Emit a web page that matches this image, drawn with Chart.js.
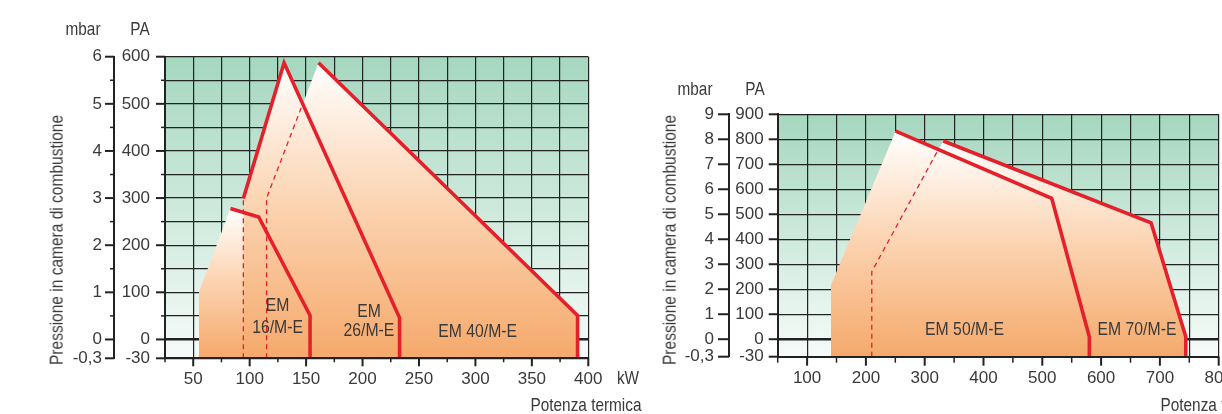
<!DOCTYPE html>
<html>
<head>
<meta charset="utf-8">
<script src="https://cdn.jsdelivr.net/npm/chart.js@4.4.1/dist/chart.umd.min.js"></script>
<style>
  html, body { margin: 0; padding: 0; background: #fff; }
  body {
    width: 1222px; height: 414px; overflow: hidden; position: relative;
    font-family: "Liberation Sans", Arial, sans-serif;
    color: #3a3a3a;
  }
  canvas { position: absolute; top: 0; }
  #leftChart { left: 0; }
  #rightChart { left: 650px; }
  /* testo stretto come nell'originale */
  .lbl { position: absolute; font-size: 18.5px; line-height: 1; white-space: nowrap;
         transform: translate(-50%, -50%) scaleX(0.83); }
  .ytitle { font-size: 18.7px; transform: translate(-50%, -50%) rotate(-90deg) scaleX(0.83); }
</style>
</head>
<body>
<canvas id="leftChart" width="650" height="414"></canvas>
<canvas id="rightChart" width="620" height="414"></canvas>

<div class="lbl" style="left:83px;top:29px">mbar</div>
<div class="lbl" style="left:140px;top:29px">PA</div>
<div class="lbl ytitle" style="left:57px;top:240px">Pressione in camera di combustione</div>
<div class="lbl" style="left:628px;top:378px">kW</div>
<div class="lbl" style="left:586px;top:405px">Potenza termica</div>

<div class="lbl" style="left:695px;top:89px">mbar</div>
<div class="lbl" style="left:755px;top:89px">PA</div>
<div class="lbl ytitle" style="left:670px;top:240px">Pressione in camera di combustione</div>
<div class="lbl" style="left:1216px;top:405px">Potenza termica</div>

<script>
// --- grafico sinistro: EM 16 / 26 / 40 (kW, Pa) ---
const leftPaTicks  = [-40, 0, 50, 100, 150, 200, 250, 300, 350, 400, 450, 500, 550, 600];
const leftPaLabels = ['-30', '0', '', '100', '', '200', '', '300', '', '400', '', '500', '', '600'];
const leftMbarTicks  = [-0.4, 0, 0.5, 1, 1.5, 2, 2.5, 3, 3.5, 4, 4.5, 5, 5.5, 6];
const leftMbarLabels = ['-0,3', '0', '', '1', '', '2', '', '3', '', '4', '', '5', '', '6'];

const em16Kw = [55, 55, 83, 108, 153.5, 153.5];
const em16Pa = [-40, 100, 278, 260, 51, -40];
const em26Kw = [94.4, 94.4, 130.5, 232.8, 232.8];
const em26Pa = [-40, 299, 587, 46, -40];
const em40Kw = [115, 115, 161, 390.5, 390.5];
const em40Pa = [-40, 300, 587, 51, -40];
const em40DashKw = [115, 115, 147];
const em40DashPa = [-40, 300, 500];

// --- grafico destro: EM 50 / 70 ---
const rightPaTicks  = [-70, 0, 100, 200, 300, 400, 500, 600, 700, 800, 900];
const rightPaLabels = ['-30', '0', '100', '200', '300', '400', '500', '600', '700', '800', '900'];
const rightMbarTicks  = [-0.7, 0, 1, 2, 3, 4, 5, 6, 7, 8, 9];
const rightMbarLabels = ['-0,3', '0', '1', '2', '3', '4', '5', '6', '7', '8', '9'];

const em50Kw = [140.6, 140.6, 250.7, 516, 580, 580];
const em50Pa = [-70, 217, 833, 564, 10, -70];
const em70Kw = [210, 210, 331.6, 685, 744, 744];
const em70Pa = [-70, 270, 793, 466, 10, -70];
const em70DashKw = [210, 210, 322];
const em70DashPa = [-70, 270, 754];

const leftNotes = [
  { text: 'EM', kw: 124.7, pa: 72 },
  { text: '16/M-E', kw: 124.7, pa: 24 },
  { text: 'EM', kw: 205.7, pa: 59 },
  { text: '26/M-E', kw: 205.7, pa: 18 },
  { text: 'EM 40/M-E', kw: 302, pa: 16 }
];
const rightNotes = [
  { text: 'EM 50/M-E', kw: 367.7, pa: 37 },
  { text: 'EM 70/M-E', kw: 661, pa: 37 }
];

const RED = '#e6202a';
const INK = '#222';
const TEXT = '#3a3a3a';
const tickFont = { family: "'Liberation Sans', Arial, sans-serif", size: 17 };
const noteFont = "19px 'Liberation Sans', Arial, sans-serif";

function pts(kw, pa) {
  return kw.map((x, i) => ({ x: x, y: pa[i] }));
}

// gradiente bianco -> arancio, dalla cima della figura al fondo
function shapeFill(top) {
  return (ctx) => {
    const chart = ctx.chart;
    const area = chart.chartArea;
    if (!area) return 'rgba(0,0,0,0)';
    const y0 = chart.scales.y.getPixelForValue(top);
    const g = chart.ctx.createLinearGradient(0, y0, 0, area.bottom);
    g.addColorStop(0, '#ffffff');
    g.addColorStop(0.45, '#fcd6b6');
    g.addColorStop(1, '#f5a96b');
    return g;
  };
}

function fillSet(kw, pa, order) {
  return {
    data: pts(kw, pa), fill: 'start', borderWidth: 0, pointRadius: 0,
    backgroundColor: shapeFill(Math.max(...pa)), order: order
  };
}
function redSet(data) {
  return { data: data, fill: false, borderColor: RED, borderWidth: 3.6, pointRadius: 0,
           borderJoinStyle: 'miter', borderCapStyle: 'butt', order: 1 };
}
function dashSet(kw, pa) {
  return { data: pts(kw, pa), fill: false, borderColor: RED, borderWidth: 1.3, borderDash: [5, 4],
           pointRadius: 0, order: 2 };
}

const plotBg = {
  id: 'plotBg',
  beforeDraw(chart) {
    const a = chart.chartArea;
    const ctx = chart.ctx;
    const g = ctx.createLinearGradient(0, a.top, 0, a.bottom);
    g.addColorStop(0, '#a5d7bf');
    g.addColorStop(1, '#f6fbf9');
    ctx.save();
    ctx.fillStyle = g;
    ctx.fillRect(a.left, a.top, a.right - a.left, a.bottom - a.top);
    ctx.restore();
  }
};

// tacche: lunghe dove c'e' etichetta, corte dove no
const tickMarks = {
  id: 'tickMarks',
  afterDraw(chart, args, opts) {
    const ctx = chart.ctx;
    ctx.save();
    ctx.strokeStyle = INK;
    Object.keys(opts.len || {}).forEach(id => {
      const s = chart.scales[id];
      const [maj, min] = opts.len[id];
      s.ticks.forEach(t => {
        const major = t.label !== '';
        const len = major ? maj : min;
        if (!len) return;
        const p = s.getPixelForValue(t.value);
        ctx.lineWidth = major ? 2 : 1.5;
        ctx.beginPath();
        if (s.isHorizontal()) { ctx.moveTo(p, s.top); ctx.lineTo(p, s.top + len); }
        else { ctx.moveTo(s.right - len, p); ctx.lineTo(s.right, p); }
        ctx.stroke();
      });
    });
    ctx.restore();
  }
};

// scritte dentro le figure, strette in orizzontale
const notes = {
  id: 'notes',
  afterDatasetsDraw(chart, args, opts) {
    const ctx = chart.ctx;
    (opts.items || []).forEach(n => {
      ctx.save();
      ctx.font = noteFont;
      ctx.fillStyle = TEXT;
      ctx.textAlign = 'center';
      ctx.textBaseline = 'middle';
      ctx.translate(chart.scales.x.getPixelForValue(n.kw), chart.scales.y.getPixelForValue(n.pa));
      ctx.scale(0.83, 1);
      ctx.fillText(n.text, 0, 0);
      ctx.restore();
    });
  }
};

function makeChart(id, cfg) {
  const fixTicks = (vals) => (s) => { s.ticks = vals.map(v => ({ value: v })); };
  const labelOf = (vals, labels) => (v) => { const i = vals.indexOf(v); return i < 0 ? '' : labels[i]; };
  return new Chart(document.getElementById(id), {
    type: 'line',
    data: { datasets: cfg.datasets },
    plugins: [plotBg, tickMarks, notes],
    options: {
      responsive: false,
      animation: false,
      layout: { padding: cfg.padding },
      plugins: {
        legend: { display: false },
        tooltip: { enabled: false },
        tickMarks: { len: cfg.tickLen },
        notes: { items: cfg.notes }
      },
      scales: {
        x: {
          type: 'linear', min: cfg.xMin, max: cfg.xMax,
          afterFit: (s) => { s.height = 40; },
          ticks: {
            stepSize: cfg.xStep, autoSkip: false, maxRotation: 0, padding: 11,
            font: tickFont, color: TEXT,
            callback: (v) => (v % cfg.xLabelStep === 0 ? String(v) : '')
          },
          grid: { color: INK, lineWidth: 1.2, drawTicks: false },
          border: { color: INK, width: 2, z: 1 }
        },
        y: {
          type: 'linear', position: 'left', min: cfg.paTicks[0], max: cfg.paTicks[cfg.paTicks.length - 1],
          afterBuildTicks: fixTicks(cfg.paTicks),
          afterFit: (s) => { s.width = cfg.paWidth; },
          ticks: { padding: cfg.paPad, font: tickFont, color: TEXT, autoSkip: false,
                   callback: labelOf(cfg.paTicks, cfg.paLabels) },
          grid: { color: INK, lineWidth: (c) => (c.tick && c.tick.value === 0 ? 2.6 : 1.2), drawTicks: false },
          border: { color: INK, width: 2, z: 1 }
        },
        mbar: {
          type: 'linear', position: 'left', weight: 1,
          min: cfg.mbarTicks[0], max: cfg.mbarTicks[cfg.mbarTicks.length - 1],
          afterBuildTicks: fixTicks(cfg.mbarTicks),
          afterFit: (s) => { s.width = cfg.mbarWidth; },
          ticks: { padding: cfg.mbarPad, font: tickFont, color: TEXT, autoSkip: false,
                   callback: labelOf(cfg.mbarTicks, cfg.mbarLabels) },
          grid: { drawOnChartArea: false, drawTicks: false },
          border: { color: INK, width: 2 }
        }
      }
    }
  });
}

makeChart('leftChart', {
  padding: { left: 30, right: 61.7, top: 56.7, bottom: 15.7 },
  xMin: 25, xMax: 400, xStep: 25, xLabelStep: 50,
  paTicks: leftPaTicks, paLabels: leftPaLabels, paWidth: 51, paPad: 15,
  mbarTicks: leftMbarTicks, mbarLabels: leftMbarLabels, mbarWidth: 84, mbarPad: 12,
  tickLen: { x: [8, 4], y: [9, 4], mbar: [9, 4] },
  notes: leftNotes,
  datasets: [
    fillSet(em16Kw, em16Pa, 12),
    fillSet(em26Kw, em26Pa, 11),
    fillSet(em40Kw, em40Pa, 10),
    dashSet(em26Kw.slice(0, 2), em26Pa.slice(0, 2)),
    dashSet(em40DashKw, em40DashPa),
    redSet(pts(em16Kw, em16Pa).slice(2)),
    redSet(pts(em26Kw, em26Pa).slice(1)),
    redSet(pts(em40Kw, em40Pa).slice(2))
  ]
});

makeChart('rightChart', {
  padding: { left: 20, right: 51.3, top: 114.3, bottom: 17.3 },
  xMin: 50, xMax: 800, xStep: 50, xLabelStep: 100,
  paTicks: rightPaTicks, paLabels: rightPaLabels, paWidth: 48.7, paPad: 14,
  mbarTicks: rightMbarTicks, mbarLabels: rightMbarLabels, mbarWidth: 59, mbarPad: 15,
  tickLen: { x: [9, 6], y: [9, 0], mbar: [11, 0] },
  notes: rightNotes,
  datasets: [
    fillSet(em50Kw, em50Pa, 11),
    fillSet(em70Kw, em70Pa, 10),
    dashSet(em70DashKw, em70DashPa),
    redSet(pts(em50Kw, em50Pa).slice(2)),
    redSet(pts(em70Kw, em70Pa).slice(2))
  ]
});
</script>
</body>
</html>
